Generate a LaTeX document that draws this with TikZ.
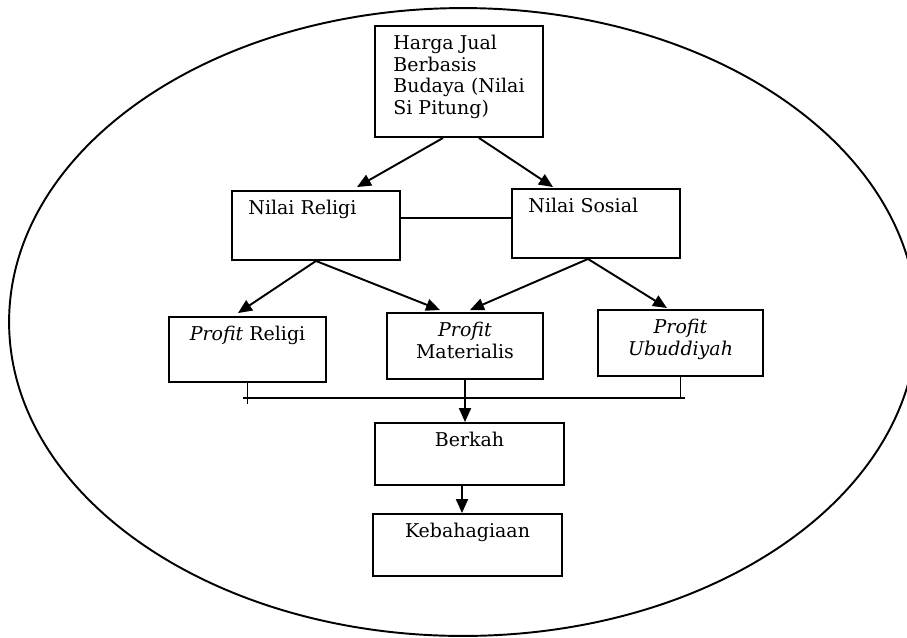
\documentclass[tikz,border=0pt]{standalone}
\usepackage{fontspec}
\setmainfont{DejaVu Serif}
\usetikzlibrary{arrows.meta,positioning}

\begin{document}
\begin{tikzpicture}[
  x=0.02cm, y=-0.02cm,
  font=\fontsize{10.8}{12.2}\selectfont,
  box/.style={draw, line width=1.1pt, inner sep=0pt},
  txt/.style={inner sep=0pt},
  arr/.style={-{Triangle[length=0.28cm, width=0.24cm]}, line width=1.1pt},
  link/.style={line width=1.1pt},
  oval/.style={line width=1.1pt}
]
\useasboundingbox (0,0) rectangle (907,637);

% ---------- Outer ellipse ----------
\draw[oval] (463,322) ellipse [x radius=9.08cm, y radius=6.28cm];

% ---------- Row 1: Harga Jual ----------
\node[box, minimum width=3.36cm, minimum height=2.22cm] (harga) at (459,81.5) {};
\node[txt, align=left, below=0.2cm of harga.north] (hargatxt) {Harga Jual\\Berbasis\\Budaya (Nilai\\Si Pitung)};

% ---------- Row 2: Nilai ----------
\node[box, minimum width=3.36cm, minimum height=1.38cm] (religi) at (316,225.5) {};
\node[txt, below right=0.2cm and 0.34cm of religi.north west] (religitxt) {Nilai Religi};
\node[box, minimum width=3.36cm, minimum height=1.38cm] (sosial) at (596,223.5) {};
\node[txt, below right=0.2cm and 0.34cm of sosial.north west] (sosialtxt) {Nilai Sosial};

% ---------- Row 3: Profit ----------
\node[box, minimum width=3.14cm, minimum height=1.30cm] (preligi) at (247.5,349.5) {};
\node[txt, below=0.2cm of preligi.north] (preligitxt) {\textit{Profit} Religi};
\node[box, minimum width=3.12cm, minimum height=1.32cm] (pmat) at (465,346) {};
\node[txt, align=center, below=0.2cm of pmat.north] (pmattxt) {\textit{Profit}\\Materialis};
\node[box, minimum width=3.30cm, minimum height=1.32cm] (pubud) at (680.5,343) {};
\node[txt, align=center, below=0.2cm of pubud.north] (pubudtxt) {\textit{Profit}\\\textit{Ubuddiyah}};

% ---------- Row 4: Berkah, Kebahagiaan ----------
\node[box, minimum width=3.78cm, minimum height=1.24cm] (berkah) at (469.5,454) {};
\node[txt, below=0.2cm of berkah.north] (berkahtxt) {Berkah};
\node[box, minimum width=3.78cm, minimum height=1.24cm] (bahagia) at (467.5,545) {};
\node[txt, below=0.2cm of bahagia.north] (bahagiatxt) {Kebahagiaan};

% ---------- Bus under the profit row ----------
\coordinate (busL) at (243,398);
\coordinate (busR) at (685,398);

% ---------- Arrows ----------
\draw[arr] ([xshift=-0.32cm]harga.south) -- ([xshift=0.82cm, yshift=0.06cm]religi.north);
\draw[arr] ([xshift=0.4cm]harga.south) -- ([xshift=-0.86cm, yshift=0.02cm]sosial.north);
\draw[link] ([yshift=0.15cm]religi.east) -- ([yshift=0.11cm]sosial.west);

\draw[arr] (religi.south) -- ([xshift=-0.19cm, yshift=0.06cm]preligi.north);
\draw[arr] (religi.south) -- ([xshift=-0.5cm, yshift=0.04cm]pmat.north);
\draw[arr] ([xshift=-0.16cm]sosial.south) -- ([xshift=0.1cm, yshift=0.04cm]pmat.north);
\draw[arr] ([xshift=-0.16cm]sosial.south) -- ([xshift=-0.27cm, yshift=0.02cm]pubud.north);

\draw[link] (busL) -- (busR);
\draw[link] (preligi.south) -- ++(0,21);
\draw[link] (pubud.south) -- (pubud.south |- busR);
\draw[arr] (pmat.south) -- (pmat.south |- berkah.north);
\draw[arr] ([xshift=-0.15cm]berkah.south) -- ([xshift=-0.11cm]bahagia.north);

\end{tikzpicture}
\end{document}
